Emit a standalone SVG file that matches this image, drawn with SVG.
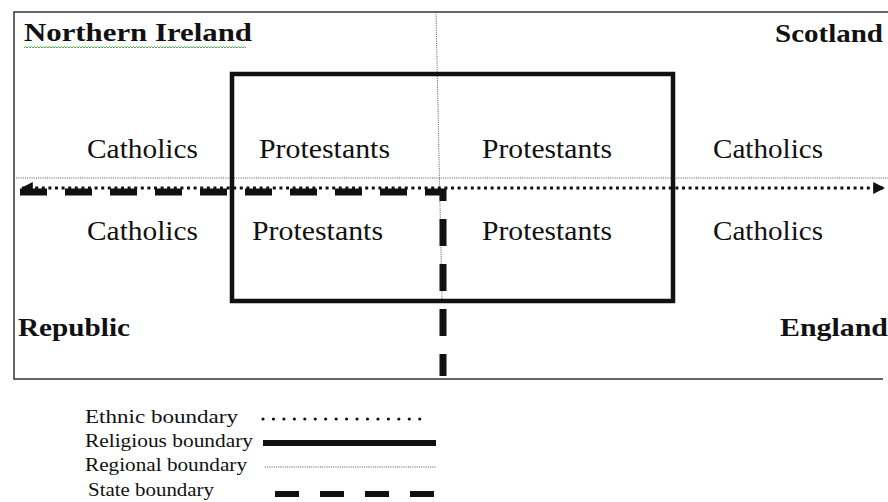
<svg xmlns="http://www.w3.org/2000/svg" width="888" height="502" viewBox="0 0 888 502">
<style>
.lbl{font-family:"Liberation Serif","Times New Roman",serif;font-size:27px;fill:#111}
.hdr{font-family:"Liberation Serif","Times New Roman",serif;font-size:25px;font-weight:bold;fill:#111}
.leg{font-family:"Liberation Serif","Times New Roman",serif;font-size:18px;fill:#111}
.frame{fill:none;stroke:#333;stroke-width:1.5}
.regional{fill:none;stroke:#555;stroke-width:1;stroke-dasharray:1 1.2}
.ethnic{fill:none;stroke:#111;stroke-width:3;stroke-dasharray:3 3.6}
.religious{fill:none;stroke:#111;stroke-width:4.5}
.state{fill:none;stroke:#111;stroke-width:7}
</style>
<defs>
<marker id="arr" viewBox="0 0 10 10" refX="9" refY="5" markerWidth="4" markerHeight="4" orient="auto-start-reverse" markerUnits="strokeWidth">
<path d="M0,0 L10,5 L0,10 z" fill="#111"/>
</marker>
</defs>
<rect width="888" height="502" fill="#fff"/>
<g id="frame">
<path class="frame" d="M888,12 H14 V379 H883"/>
</g>
<g id="connectors">
<line id="regional-h" class="regional" x1="14" y1="178" x2="888" y2="178"/>
<line id="regional-v" class="regional" x1="436" y1="12" x2="442" y2="300"/>
<rect id="religious" class="religious" x="232" y="74" width="441" height="227"/>
<path id="state" class="state" d="M20,192 H443 V376" stroke-dasharray="27 18"/>
<line id="ethnic" class="ethnic" x1="22" y1="188" x2="884" y2="188" marker-start="url(#arr)" marker-end="url(#arr)"/>
</g>
<g id="northern-ireland">
<text class="hdr" x="24" y="41" textLength="228" lengthAdjust="spacingAndGlyphs">Northern  Ireland</text>
<path d="M24,48 l1.5,-1.5 l1.5,1.5 l1.5,-1.5 l1.5,1.5 l1.5,-1.5 l1.5,1.5 l1.5,-1.5 l1.5,1.5 l1.5,-1.5 l1.5,1.5 l1.5,-1.5 l1.5,1.5 l1.5,-1.5 l1.5,1.5 l1.5,-1.5 l1.5,1.5 l1.5,-1.5 l1.5,1.5 l1.5,-1.5 l1.5,1.5 l1.5,-1.5 l1.5,1.5 l1.5,-1.5 l1.5,1.5 l1.5,-1.5 l1.5,1.5 l1.5,-1.5 l1.5,1.5 l1.5,-1.5 l1.5,1.5 l1.5,-1.5 l1.5,1.5 l1.5,-1.5 l1.5,1.5 l1.5,-1.5 l1.5,1.5 l1.5,-1.5 l1.5,1.5 l1.5,-1.5 l1.5,1.5 l1.5,-1.5 l1.5,1.5 l1.5,-1.5 l1.5,1.5 l1.5,-1.5 l1.5,1.5 l1.5,-1.5 l1.5,1.5 l1.5,-1.5 l1.5,1.5 l1.5,-1.5 l1.5,1.5 l1.5,-1.5 l1.5,1.5 l1.5,-1.5 l1.5,1.5 l1.5,-1.5 l1.5,1.5 l1.5,-1.5 l1.5,1.5 l1.5,-1.5 l1.5,1.5 l1.5,-1.5 l1.5,1.5 l1.5,-1.5 l1.5,1.5 l1.5,-1.5 l1.5,1.5 l1.5,-1.5 l1.5,1.5 l1.5,-1.5 l1.5,1.5 l1.5,-1.5 l1.5,1.5 l1.5,-1.5 l1.5,1.5 l1.5,-1.5 l1.5,1.5 l1.5,-1.5 l1.5,1.5 l1.5,-1.5 l1.5,1.5 l1.5,-1.5 l1.5,1.5 l1.5,-1.5 l1.5,1.5 l1.5,-1.5 l1.5,1.5 l1.5,-1.5 l1.5,1.5 l1.5,-1.5 l1.5,1.5 l1.5,-1.5 l1.5,1.5 l1.5,-1.5 l1.5,1.5 l1.5,-1.5 l1.5,1.5 l1.5,-1.5 l1.5,1.5 l1.5,-1.5 l1.5,1.5 l1.5,-1.5 l1.5,1.5 l1.5,-1.5 l1.5,1.5 l1.5,-1.5 l1.5,1.5 l1.5,-1.5 l1.5,1.5 l1.5,-1.5 l1.5,1.5 l1.5,-1.5 l1.5,1.5 l1.5,-1.5 l1.5,1.5 l1.5,-1.5 l1.5,1.5 l1.5,-1.5 l1.5,1.5 l1.5,-1.5 l1.5,1.5 l1.5,-1.5 l1.5,1.5 l1.5,-1.5 l1.5,1.5 l1.5,-1.5 l1.5,1.5 l1.5,-1.5 l1.5,1.5 l1.5,-1.5 l1.5,1.5 l1.5,-1.5 l1.5,1.5 l1.5,-1.5 l1.5,1.5 l1.5,-1.5 l1.5,1.5 l1.5,-1.5 l1.5,1.5 l1.5,-1.5 l1.5,1.5 l1.5,-1.5 l1.5,1.5 l1.5,-1.5 l1.5,1.5 l1.5,-1.5 l1.5,1.5" fill="none" stroke="#3aa53a" stroke-width="0.9"/>
</g>
<g id="scotland"><text class="hdr" x="775" y="42" textLength="108" lengthAdjust="spacingAndGlyphs">Scotland</text></g>
<g id="republic"><text class="hdr" x="18" y="336" textLength="112" lengthAdjust="spacingAndGlyphs">Republic</text></g>
<g id="england"><text class="hdr" x="780" y="336" textLength="108" lengthAdjust="spacingAndGlyphs">England</text></g>
<g id="catholics-ni-n"><text class="lbl" x="87" y="158" textLength="111" lengthAdjust="spacingAndGlyphs">Catholics</text></g>
<g id="protestants-ni-n"><text class="lbl" x="259" y="158" textLength="131" lengthAdjust="spacingAndGlyphs">Protestants</text></g>
<g id="protestants-sc"><text class="lbl" x="482" y="158" textLength="130" lengthAdjust="spacingAndGlyphs">Protestants</text></g>
<g id="catholics-sc"><text class="lbl" x="713" y="158" textLength="110" lengthAdjust="spacingAndGlyphs">Catholics</text></g>
<g id="catholics-rep"><text class="lbl" x="87" y="240" textLength="111" lengthAdjust="spacingAndGlyphs">Catholics</text></g>
<g id="protestants-rep"><text class="lbl" x="252" y="240" textLength="131" lengthAdjust="spacingAndGlyphs">Protestants</text></g>
<g id="protestants-en"><text class="lbl" x="482" y="240" textLength="130" lengthAdjust="spacingAndGlyphs">Protestants</text></g>
<g id="catholics-en"><text class="lbl" x="713" y="240" textLength="110" lengthAdjust="spacingAndGlyphs">Catholics</text></g>
<g id="legend">
<text class="leg" x="85" y="423" textLength="153" lengthAdjust="spacingAndGlyphs">Ethnic   boundary</text>
<line x1="263" y1="419" x2="430" y2="419" stroke="#111" stroke-width="3.2" stroke-linecap="round" stroke-dasharray="0 10.45"/>
<text class="leg" x="85" y="447" textLength="168" lengthAdjust="spacingAndGlyphs">Religious boundary</text>
<line x1="263" y1="443" x2="436" y2="443" stroke="#111" stroke-width="6"/>
<text class="leg" x="85" y="471" textLength="162" lengthAdjust="spacingAndGlyphs">Regional boundary</text>
<line x1="265" y1="467" x2="436" y2="467" class="regional"/>
<text class="leg" x="88" y="496" textLength="126" lengthAdjust="spacingAndGlyphs">State boundary</text>
<line x1="275" y1="494" x2="434" y2="494" stroke="#111" stroke-width="6" stroke-dasharray="24 21"/>
</g>
</svg>
